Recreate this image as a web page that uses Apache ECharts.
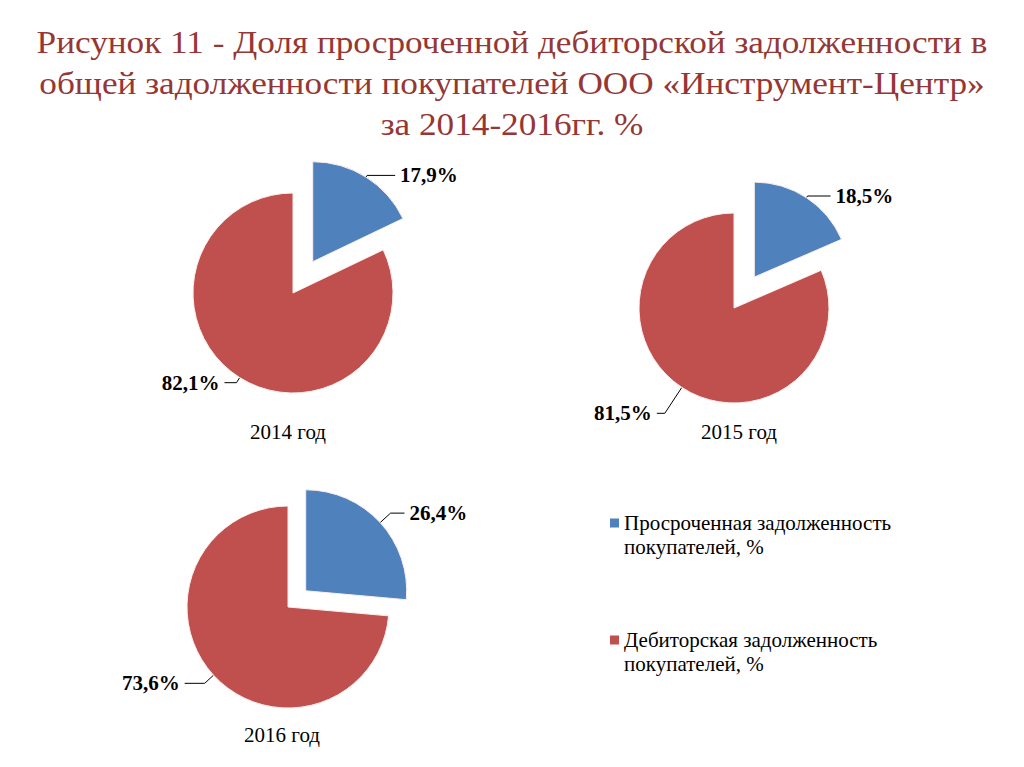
<!DOCTYPE html>
<html>
<head>
<meta charset="utf-8">
<script src="https://cdn.jsdelivr.net/npm/echarts@6/dist/echarts.min.js"></script>
<style>
html,body{margin:0;padding:0;background:#fff;}
#chart{width:1024px;height:767px;}
</style>
</head>
<body>
<div id="chart"></div>
<script>
const years = ['2014 год', '2015 год', '2016 год'];
const overdue = [17.9, 18.5, 26.4];
const receivable = [82.1, 81.5, 73.6];
const seriesNames = ['Просроченная задолженность покупателей, %', 'Дебиторская задолженность покупателей, %'];
const titleText = 'Рисунок 11 - Доля просроченной дебиторской задолженности в\nобщей задолженности покупателей ООО «Инструмент-Центр»\nза 2014-2016гг. %';

const colors = ['#4F81BD', '#C0504D'];
const serif = 'Liberation Serif';

// layout per pie (positions/sizes only)
const layout = [
  { center: [293, 293], r: 100, offset: 37, yearPos: [283, 416],
    lines: [[2, 28], [6, 12]] },
  { center: [734, 308], r: 95, offset: 37, yearPos: [734, 416],
    lines: [[2, 23], [31, 8]] },
  { center: [288, 607], r: 101, offset: 24, yearPos: [277, 719],
    lines: [[14, 14], [12, 20]] }
];

const fmt = v => String(v).replace('.', ',') + '%';

const chart = echarts.init(document.getElementById('chart'), null, { renderer: 'svg' });

const series = years.map((y, i) => ({
  type: 'pie',
  name: y,
  center: layout[i].center,
  radius: [0, layout[i].r],
  startAngle: 90,
  clockwise: true,
  selectedMode: 'single',
  selectedOffset: layout[i].offset,
  animation: false,
  silent: true,
  itemStyle: { borderColor: '#fbeeee', borderWidth: 1 },
  label: {
    show: true,
    position: 'outside',
    formatter: p => fmt(p.value),
    fontFamily: serif,
    fontWeight: 'bold',
    fontSize: 21,
    color: '#000'
  },
  labelLine: {
    show: true,
    lineStyle: { color: '#000', width: 1 }
  },
  data: [
    { name: seriesNames[0], value: overdue[i], selected: true, itemStyle: { color: colors[0] },
      labelLine: { length: layout[i].lines[0][0], length2: layout[i].lines[0][1] } },
    { name: seriesNames[1], value: receivable[i], itemStyle: { color: colors[1] },
      labelLine: { length: layout[i].lines[1][0], length2: layout[i].lines[1][1] } }
  ]
}));

const titles = years.map((y, i) => ({
  text: y,
  left: layout[i].yearPos[0],
  top: layout[i].yearPos[1],
  textAlign: 'center',
  textStyle: { fontFamily: serif, fontSize: 21, fontWeight: 'normal', color: '#000' }
}));

chart.setOption({
  backgroundColor: '#fff',
  color: colors,
  title: titles,
  graphic: [{
    type: 'text',
    x: 512,
    y: 22,
    scaleX: 1.1,
    silent: true,
    style: {
      text: titleText,
      x: 0,
      y: 0,
      align: 'center',
      verticalAlign: 'top',
      fontFamily: serif,
      fontSize: 32,
      lineHeight: 41,
      fill: '#953735'
    }
  }],
  legend: {
    orient: 'vertical',
    left: 605,
    top: 506,
    itemGap: 69,
    itemWidth: 9,
    itemHeight: 33,
    icon: 'path://M0 0H9V9H0Z M0 33H0.001V33.001H0Z',
    itemStyle: { borderWidth: 0 },
    selectedMode: false,
    formatter: n => n.replace(' покупателей', '\nпокупателей'),
    textStyle: { fontFamily: serif, fontSize: 21, color: '#000', lineHeight: 24 },
    data: seriesNames
  },
  series: series
});
</script>
</body>
</html>
